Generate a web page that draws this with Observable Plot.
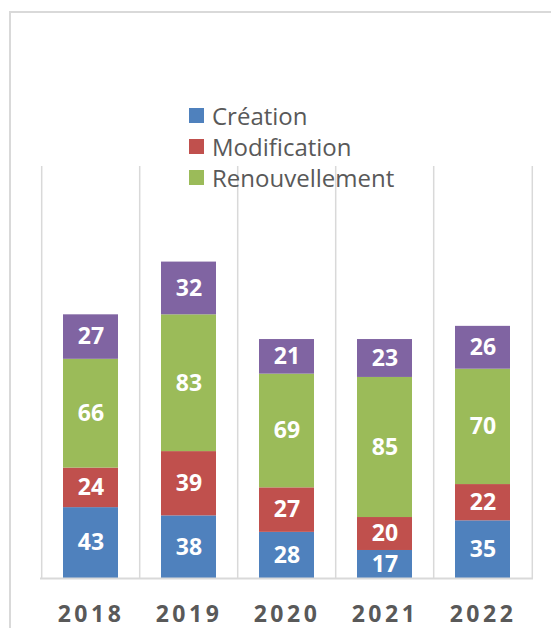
<!DOCTYPE html>
<html>
<head>
<meta charset="utf-8">
<script src="https://cdn.jsdelivr.net/npm/d3@7"></script>
<script src="https://cdn.jsdelivr.net/npm/@observablehq/plot@0.6"></script>
<style>
  html, body { margin: 0; padding: 0; background: #fff; }
  #wrap { position: relative; width: 551px; height: 628px; overflow: hidden; font-family: "Open Sans", sans-serif; }
  #border { position: absolute; left: 9px; top: 11px; width: 700px; height: 800px; border: 2px solid #d9d9d9; box-sizing: border-box; pointer-events: none; }
  #chart { position: absolute; left: 0; top: 0; }
  #legend { position: absolute; left: 189px; top: 100px; color: #595959; font-size: 24px; line-height: 31px; }
  #legend .item { display: flex; align-items: center; height: 31px; }
  #legend .sw { width: 15px; height: 15px; margin-right: 8px; flex: none; }
  g[aria-label="x-axis tick label"] text { letter-spacing: 3.5px; }
</style>
</head>
<body>
<div id="wrap">
  <div id="border"></div>
  <div id="chart"></div>
  <div id="legend"></div>
</div>
<script>
const years = ["2018", "2019", "2020", "2021", "2022"];
const seriesNames = ["Création", "Modification", "Renouvellement", "Autre"];
const colors = ["#4F81BD", "#C0504D", "#9BBB59", "#8064A2"];
const legendNames = ["Création", "Modification", "Renouvellement"];
const creation = [43, 38, 28, 17, 35];
const modification = [24, 39, 27, 20, 22];
const renouvellement = [66, 83, 69, 85, 70];
const autre = [27, 32, 21, 23, 26];

const seriesValues = [creation, modification, renouvellement, autre];
const data = [];
seriesNames.forEach((s, i) => {
  years.forEach((y, j) => data.push({year: y, series: s, value: seriesValues[i][j]}));
});

const W = 551, H = 628, mL = 40, mR = 18, mT = 166, mB = 50;
const padIn = 0.44, padOut = 0.22;
const step = (W - mL - mR) / (years.length - padIn + 2 * padOut);

const chart = Plot.plot({
  width: W,
  height: H,
  marginLeft: mL,
  marginRight: mR,
  marginTop: mT,
  marginBottom: mB,
  style: {background: "none", fontFamily: "Open Sans, sans-serif"},
  x: {type: "band", domain: years, paddingInner: padIn, paddingOuter: padOut, label: null},
  y: {domain: [0, 250], axis: null},
  color: {domain: seriesNames, range: colors},
  marks: [
    Plot.ruleX(years, {x: d => d, dx: -step / 2, stroke: "#d9d9d9", strokeWidth: 1.5}),
    Plot.ruleX(years.slice(-1), {x: d => d, dx: step / 2, stroke: "#d9d9d9", strokeWidth: 1.5}),
    Plot.barY(data, {x: "year", y: "value", fill: "series", order: seriesNames}),
    Plot.ruleY([0], {stroke: "#d9d9d9", strokeWidth: 2}),
    Plot.text(data, Plot.stackY({x: "year", y: "value", text: d => String(d.value), z: "series", order: seriesNames, fill: "white", fontSize: 23, fontWeight: "bold"})),
    Plot.axisX({tickSize: 0, tickPadding: 27, fontSize: 23, fontWeight: "bold", fill: "#595959", label: null})
  ]
});
document.getElementById("chart").appendChild(chart);

const legend = document.getElementById("legend");
legendNames.forEach((n, i) => {
  const item = document.createElement("div");
  item.className = "item";
  const sw = document.createElement("span");
  sw.className = "sw";
  sw.style.background = colors[i];
  const t = document.createElement("span");
  t.textContent = n;
  item.appendChild(sw);
  item.appendChild(t);
  legend.appendChild(item);
});
</script>
</body>
</html>
